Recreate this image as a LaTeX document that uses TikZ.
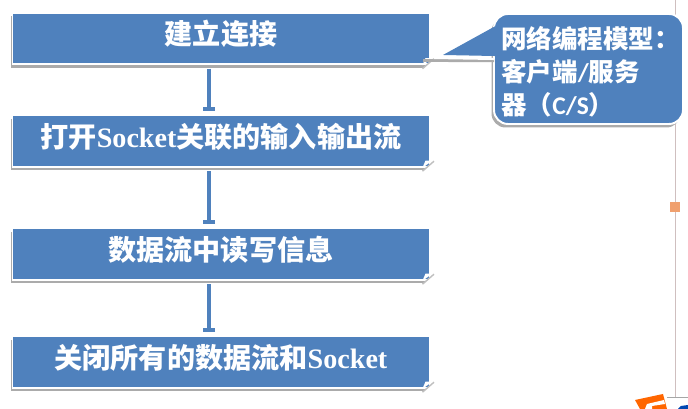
\documentclass[tikz,border=0pt]{standalone}
\usepackage{fontspec}
\setmainfont{Liberation Serif}
\newfontfamily\cjk{Noto Sans CJK SC}
\newfontfamily\latinnote{Carlito}
\usetikzlibrary{arrows.meta, calc, shadows}
\definecolor{boxblue}{RGB}{79,129,189}
\definecolor{markorange}{RGB}{240,160,110}
\tikzset{
    stepbox/.style={rectangle, fill=boxblue, draw=white, line width=1.1pt, minimum width=8.34cm, minimum height=1.03cm,
        inner sep=0pt, text=white, font=\fontsize{16}{16}\selectfont\bfseries, text height=12pt, text depth=4.6pt,
        drop shadow={shadow xshift=-0.04cm, shadow yshift=-0.07cm, fill=black!33, opacity=1}},
    flowline/.style={draw=boxblue, line width=2.3pt, shorten >=0.06cm, -{Bar[width=0.24cm, length=0.04cm]}},
    notebox/.style={rectangle, rounded corners=0.28cm, fill=boxblue, draw=white, line width=1.1pt, minimum width=3.78cm, minimum height=2.2cm,
        drop shadow={shadow xshift=-0.05cm, shadow yshift=-0.07cm, fill=black!33, opacity=1}},
    notetext/.style={align=left, inner sep=0pt, text=white, font=\fontsize{14.5}{18.7}\selectfont\bfseries\cjk}
}
\begin{document}
\begin{tikzpicture}
            \useasboundingbox (0, 0) rectangle (13.76, 8.18);

            \draw [red!25!black!25, line width=0.5pt] (13.51, 8.18) -- (13.51, 0.24);
            \draw [black!35, line width=0.5pt] (13.34, 0.24) -- (13.76, 0.24);
            \node (mark) at (13.5, 4.04) [rectangle, fill=markorange, minimum width=0.2cm, minimum height=0.2cm, inner sep=0pt] {};

            \node (s1) at (4.42, 7.41) [stepbox] {\cjk 建立连接};
            \node (s2) at (4.42, 5.36) [stepbox] {\cjk 打开{\rmfamily Socket}关联的输入输出流};
            \node (s3) at (4.42, 3.10) [stepbox] {\cjk 数据流中读写信息};
            \node (s4) at (4.42, 0.94) [stepbox] {\cjk 关闭所有的数据流和{\rmfamily Socket}};

            \foreach \from/\to in {s1/s2, s2/s3, s3/s4}
                \draw [flowline] ([xshift=-0.24cm, yshift=-0.07cm]\from.south) -- ([xshift=-0.24cm]\to.north);

            \foreach \n in {s1, s2, s3, s4} {
                \fill [white] ($(\n.south east)+(-0.17, -0.1)$) -- ($(\n.south east)+(0.1, -0.1)$) -- ($(\n.south east)+(0.1, 0.2)$) -- cycle;
                \draw [black!25, line width=0.8pt] ($(\n.south east)+(-0.16, -0.07)$) -- ($(\n.south east)+(0.07, 0.13)$);
                \fill [white] ($(\n.south east)+(-0.16, 0)$) -- ($(\n.south east)+(-0.1, 0.14)$) -- ($(\n.south east)+(0.04, 0.14)$) -- cycle;
            }

            \node (note) at (11.77, 6.8) [notebox] {};
            \coordinate (tip) at (8.86, 7.08);
            \fill [black!33] (tip |- note.north west) ++(-0.4, -0.92) -- ($(note.north west)+(0.02, -0.92)$) -- ($(note.north west)+(0.02, -0.98)$) -- ($(tip)+(-0.4, -0.14)$) -- cycle;
            \fill [white] ($(note.north west)+(0.02, -0.9)$) -- (tip) -- ($(tip)+(-0.2, -0.08)$) -- ($(note.north west)+(0.02, -0.94)$) -- cycle;
            \fill [boxblue] ($(note.north west)+(0.05, -0.26)$) -- (tip) -- ($(note.north west)+(0.05, -0.86)$) -- cycle;
            \node (notelabel) at (10.02, 6.74) [notetext, anchor=west] {网络编程模型：\\客户端{\latinnote /}服务\\器（{\latinnote C/S}）};

            \fill [orange!80!red] (12.7, 0.18) -- (13.26, 0.3) -- (13.34, 0) -- (12.8, 0) -- cycle;
            \fill [white] (12.9, 0) -- (12.94, 0.1) -- (13.28, 0.18) -- (13.3, 0.1) -- (13.04, 0.06) -- (13.04, 0) -- cycle;
            \fill [blue!60!cyan!70!black] (13.56, 0) -- (13.62, 0.06) -- (13.76, 0.08) -- (13.76, 0) -- cycle;
        \end{tikzpicture}
\end{document}
